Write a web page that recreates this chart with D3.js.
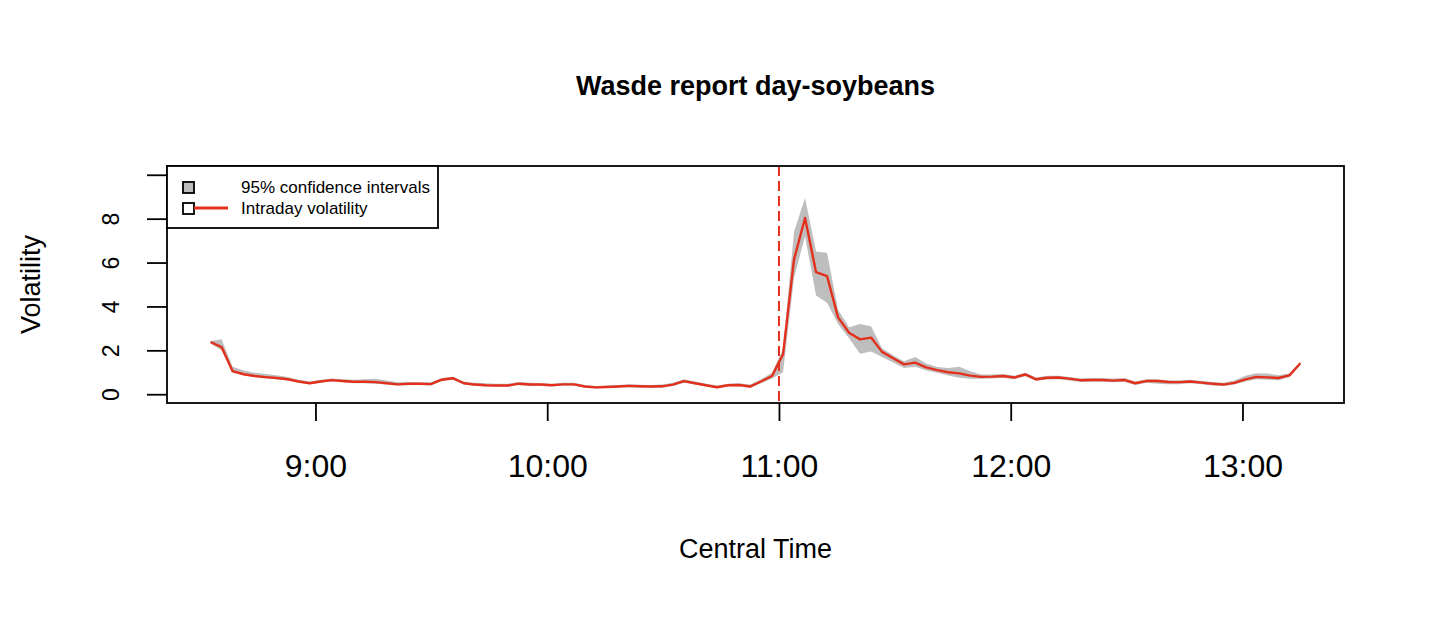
<!DOCTYPE html>
<html>
<head>
<meta charset="utf-8">
<script src="https://cdn.jsdelivr.net/npm/d3@7"></script>
<style>
  body { margin: 0; background: #fff; }
  svg text { font-family: "Liberation Sans", Arial, Helvetica, sans-serif; fill: #000; }
</style>
</head>
<body>
<svg id="chart" width="1430" height="617"></svg>
<script>
// intraday volatility, one value per time bin (8:30 - 13:15 split in 100 bins)
var vol = [2.38, 2.15, 1.05, 0.91, 0.83, 0.78, 0.74, 0.68, 0.58, 0.50,
           0.58, 0.64, 0.60, 0.57, 0.57, 0.55, 0.50, 0.45, 0.48, 0.48,
           0.46, 0.66, 0.73, 0.50, 0.44, 0.41, 0.40, 0.40, 0.48, 0.44,
           0.44, 0.41, 0.45, 0.45, 0.35, 0.31, 0.33, 0.35, 0.38, 0.36,
           0.35, 0.36, 0.44, 0.60, 0.50, 0.41, 0.32, 0.41, 0.42, 0.35,
           0.58, 0.83, 1.82, 6.14, 8.03, 5.56, 5.38, 3.50, 2.80, 2.50,
           2.58, 1.93, 1.64, 1.36, 1.44, 1.22, 1.10, 1.00, 0.95, 0.85,
           0.79, 0.80, 0.83, 0.76, 0.90, 0.68, 0.75, 0.76, 0.71, 0.64,
           0.65, 0.65, 0.62, 0.65, 0.50, 0.60, 0.60, 0.56, 0.55, 0.58,
           0.53, 0.48, 0.44, 0.52, 0.68, 0.79, 0.77, 0.74, 0.86, 1.41];

// 95% confidence interval bounds
var lower = [2.30, 2.00, 0.98, 0.86, 0.78, 0.72, 0.68, 0.62, 0.52, 0.45,
             0.52, 0.58, 0.54, 0.50, 0.50, 0.48, 0.44, 0.40, 0.42, 0.42,
             0.40, 0.60, 0.66, 0.44, 0.38, 0.36, 0.34, 0.34, 0.42, 0.38,
             0.38, 0.36, 0.40, 0.40, 0.30, 0.26, 0.28, 0.30, 0.32, 0.30,
             0.30, 0.30, 0.38, 0.52, 0.44, 0.35, 0.27, 0.35, 0.36, 0.30,
             0.50, 0.72, 1.00, 5.30, 7.20, 4.50, 4.17, 3.20, 2.55, 1.85,
             1.95, 1.70, 1.45, 1.20, 1.25, 1.08, 0.98, 0.85, 0.75, 0.70,
             0.70, 0.72, 0.75, 0.68, 0.82, 0.60, 0.67, 0.68, 0.63, 0.56,
             0.57, 0.57, 0.54, 0.56, 0.42, 0.52, 0.48, 0.45, 0.45, 0.50,
             0.45, 0.40, 0.37, 0.44, 0.58, 0.68, 0.66, 0.64, 0.78, 1.35];

var upper = [2.42, 2.50, 1.25, 1.08, 0.98, 0.92, 0.86, 0.78, 0.66, 0.58,
             0.66, 0.72, 0.68, 0.66, 0.68, 0.70, 0.62, 0.54, 0.56, 0.55,
             0.54, 0.74, 0.80, 0.58, 0.52, 0.50, 0.48, 0.48, 0.56, 0.52,
             0.50, 0.48, 0.52, 0.52, 0.42, 0.38, 0.40, 0.42, 0.45, 0.43,
             0.42, 0.44, 0.52, 0.68, 0.58, 0.48, 0.40, 0.48, 0.50, 0.44,
             0.68, 0.98, 2.05, 7.40, 8.94, 6.50, 6.45, 3.85, 3.05, 3.20,
             3.10, 2.10, 1.78, 1.50, 1.70, 1.40, 1.24, 1.20, 1.25, 1.05,
             0.90, 0.90, 0.92, 0.84, 0.98, 0.76, 0.84, 0.84, 0.79, 0.72,
             0.74, 0.74, 0.72, 0.74, 0.58, 0.68, 0.68, 0.64, 0.62, 0.66,
             0.61, 0.56, 0.52, 0.62, 0.84, 0.96, 0.94, 0.86, 0.94, 1.47];

var hourTicks = [9, 10, 11, 12, 13];
var volTicks = [0, 2, 4, 6, 8, 10];
var reportHour = 11;

// bin end times in decimal hours
var times = d3.range(1, vol.length + 1).map(function(k) { return 8.5 + k * 0.0475; });

var rows = times.map(function(t, i) {
    return { t: t, v: vol[i], lo: lower[i], hi: upper[i] };
});

var svg = d3.select("#chart");
var plotLeft = 167, plotRight = 1344, plotTop = 166, plotBottom = 403;

// R style 4% padding on x
var ext = d3.extent(times), pad = (ext[1] - ext[0]) * 0.04;
var x = d3.scaleLinear().domain([ext[0] - pad, ext[1] + pad]).range([plotLeft, plotRight]);
var y = d3.scaleLinear().domain([-0.4, 10.4]).range([plotBottom, plotTop]);

// confidence band
svg.append("path")
    .datum(rows)
    .attr("fill", "#bebebe")
    .attr("d", d3.area()
        .x(function(d) { return x(d.t); })
        .y0(function(d) { return y(d.lo); })
        .y1(function(d) { return y(d.hi); }));

// volatility line
svg.append("path")
    .datum(rows)
    .attr("fill", "none")
    .attr("stroke", "#e3301d")
    .attr("stroke-width", 2.4)
    .attr("stroke-linejoin", "round")
    .attr("d", d3.line()
        .x(function(d) { return x(d.t); })
        .y(function(d) { return y(d.v); }));

// report time marker
svg.append("line")
    .attr("x1", x(reportHour)).attr("x2", x(reportHour))
    .attr("y1", plotTop).attr("y2", plotBottom)
    .attr("stroke", "#e3301d")
    .attr("stroke-width", 2)
    .attr("stroke-dasharray", "10,5");

// x axis
var xAxis = svg.append("g")
    .attr("transform", "translate(0," + plotBottom + ")")
    .call(d3.axisBottom(x)
        .tickValues(hourTicks)
        .tickFormat(function(h) { return h + ":00"; })
        .tickSize(18)
        .tickPadding(33)
        .tickSizeOuter(0));
xAxis.select(".domain").remove();
xAxis.selectAll("line").attr("stroke", "#000").attr("stroke-width", 1.8);
xAxis.selectAll("text")
    .style("font-family", '"Liberation Sans", Arial, Helvetica, sans-serif')
    .attr("font-size", 32)
    .attr("fill", "#000");

// y axis, labels turned like R las=0
var yAxis = svg.append("g")
    .attr("transform", "translate(" + plotLeft + ",0)")
    .call(d3.axisLeft(y)
        .tickValues(volTicks)
        .tickFormat(function(v) { return v === 10 ? "" : v; })
        .tickSize(20)
        .tickSizeOuter(0));
yAxis.select(".domain").remove();
yAxis.selectAll("line").attr("stroke", "#000").attr("stroke-width", 1.8);
yAxis.selectAll("text")
    .style("font-family", '"Liberation Sans", Arial, Helvetica, sans-serif')
    .attr("font-size", 23)
    .attr("fill", "#000")
    .attr("x", null).attr("dy", null)
    .attr("text-anchor", "middle")
    .attr("transform", "translate(-48,0) rotate(-90)");

// plot box
svg.append("rect")
    .attr("x", plotLeft).attr("y", plotTop)
    .attr("width", plotRight - plotLeft).attr("height", plotBottom - plotTop)
    .attr("fill", "none")
    .attr("stroke", "#000")
    .attr("stroke-width", 1.8);

// titles
svg.append("text")
    .attr("x", (plotLeft + plotRight) / 2).attr("y", 95)
    .attr("text-anchor", "middle")
    .attr("font-size", 27)
    .attr("font-weight", "bold")
    .text("Wasde report day-soybeans");

svg.append("text")
    .attr("x", (plotLeft + plotRight) / 2).attr("y", 558)
    .attr("text-anchor", "middle")
    .attr("font-size", 27)
    .text("Central Time");

svg.append("text")
    .attr("transform", "translate(40," + (plotTop + plotBottom) / 2 + ") rotate(-90)")
    .attr("text-anchor", "middle")
    .attr("font-size", 27)
    .text("Volatility");

// legend
var legend = svg.append("g");
legend.append("rect")
    .attr("x", plotLeft).attr("y", plotTop)
    .attr("width", 271).attr("height", 62)
    .attr("fill", "#fff")
    .attr("stroke", "#000")
    .attr("stroke-width", 1.8);
legend.append("rect")
    .attr("x", 183).attr("y", 182).attr("width", 11).attr("height", 11)
    .attr("fill", "#bebebe").attr("stroke", "#000").attr("stroke-width", 1.8);
legend.append("rect")
    .attr("x", 183).attr("y", 203).attr("width", 11).attr("height", 11)
    .attr("fill", "#fff").attr("stroke", "#000").attr("stroke-width", 1.8);
legend.append("line")
    .attr("x1", 194).attr("x2", 228).attr("y1", 208).attr("y2", 208)
    .attr("stroke", "#e3301d").attr("stroke-width", 3);
legend.append("text")
    .attr("x", 241).attr("y", 193)
    .attr("font-size", 17)
    .text("95% confidence intervals");
legend.append("text")
    .attr("x", 241).attr("y", 214)
    .attr("font-size", 17)
    .text("Intraday volatility");
</script>
</body>
</html>
